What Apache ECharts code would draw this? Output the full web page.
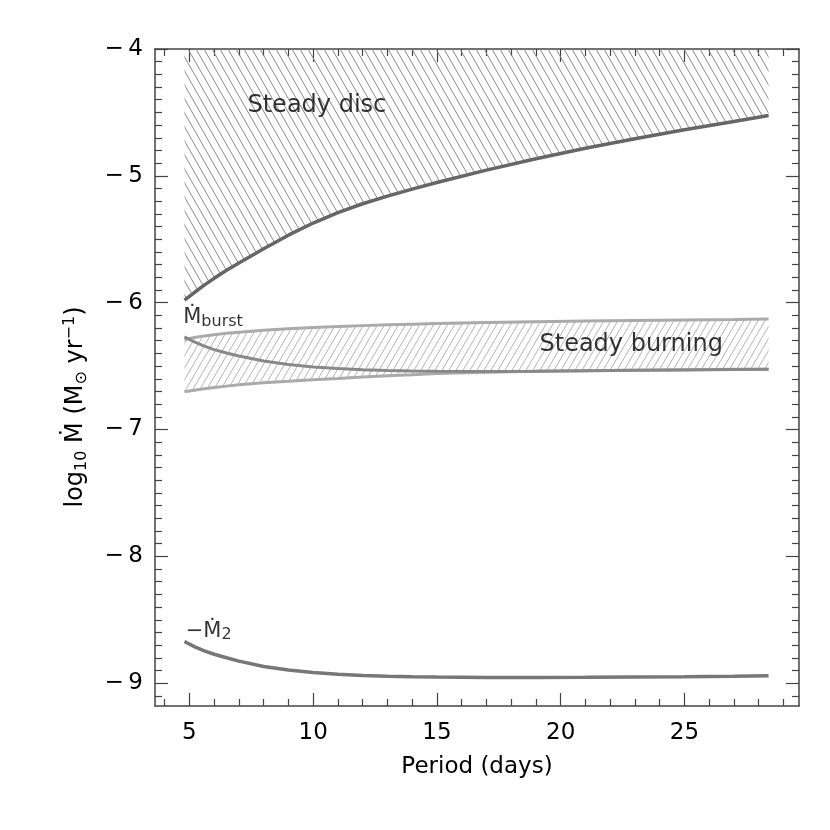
<!DOCTYPE html>
<html>
<head>
<meta charset="utf-8">
<script src="https://cdn.jsdelivr.net/npm/echarts@6/dist/echarts.min.js"></script>
<style>
html, body { margin: 0; padding: 0; background: #fff; }
#chart { width: 830px; height: 830px; }
</style>
</head>
<body>
<div id="chart"></div>
<script>
// orbital period (days) where the curves were read
var periods = [4.8, 5.2, 5.6, 6, 6.5, 7, 8, 9, 10, 11, 12, 13, 14, 15, 17, 19, 21, 23, 25, 27, 28.4];
// log10 Mdot values
var steadyDisc = [-5.98, -5.92, -5.862, -5.808, -5.745, -5.687, -5.575, -5.468, -5.372, -5.29, -5.22, -5.16, -5.105, -5.053, -4.955, -4.865, -4.783, -4.707, -4.636, -4.571, -4.525];
var burnUpper = [-6.29, -6.275, -6.263, -6.253, -6.242, -6.233, -6.218, -6.206, -6.196, -6.188, -6.181, -6.175, -6.17, -6.165, -6.157, -6.15, -6.145, -6.14, -6.136, -6.132, -6.129];
var burnLower = [-6.703, -6.69, -6.679, -6.669, -6.658, -6.648, -6.632, -6.619, -6.608, -6.598, -6.587, -6.577, -6.568, -6.558, -6.548, -6.541, -6.536, -6.532, -6.528, -6.525, -6.524];
var mBurst = [-6.27, -6.31, -6.343, -6.37, -6.397, -6.421, -6.46, -6.488, -6.507, -6.52, -6.529, -6.535, -6.539, -6.541, -6.542, -6.54, -6.536, -6.533, -6.53, -6.527, -6.525];
var mDot2 = [-8.671, -8.712, -8.745, -8.772, -8.80, -8.826, -8.868, -8.897, -8.915, -8.93, -8.939, -8.945, -8.949, -8.952, -8.955, -8.955, -8.954, -8.951, -8.949, -8.946, -8.942];
var discTop = -4;

var xMajor = [5, 10, 15, 20, 25];
var xMinor = [4, 6, 7, 8, 9, 11, 12, 13, 14, 16, 17, 18, 19, 21, 22, 23, 24, 26, 27, 28, 29];
var yMajor = [-9, -8, -7, -6, -5, -4];
var yMinor = [];
for (var t = -91; t <= -41; t++) {
  if (t % 10 != 0) yMinor.push(t / 10);
}

var FONT = 'DejaVu Sans';
var FRAME = '#444';

function pairs(vals) {
  return periods.map(function (p, i) { return [p, vals[i]]; });
}

// diagonal hatch tile, dir 1 = "\" , dir -1 = "/"
function hatch(color, dir, w, h) {
  var c = document.createElement('canvas');
  c.width = w; c.height = h;
  var ctx = c.getContext('2d');
  ctx.strokeStyle = color;
  ctx.lineWidth = 1;
  for (var k = -1; k <= 1; k++) {
    ctx.beginPath();
    if (dir > 0) { ctx.moveTo(k * w, 0); ctx.lineTo(k * w + w, h); }
    else { ctx.moveTo(k * w + w, 0); ctx.lineTo(k * w, h); }
    ctx.stroke();
  }
  return c;
}

// hatched region between two curves, drawn through the axes
function band(name, upper, lower, pattern) {
  return {
    name: name, type: 'custom', coordinateSystem: 'cartesian2d', silent: true,
    data: [[periods[0], lower[0]]],
    renderItem: function (params, api) {
      var pts = [];
      for (var i = 0; i < periods.length; i++) pts.push(api.coord([periods[i], upper[i]]));
      for (var j = periods.length - 1; j >= 0; j--) pts.push(api.coord([periods[j], lower[j]]));
      return {
        type: 'polygon', shape: { points: pts },
        style: { fill: { image: pattern, repeat: 'repeat' }, stroke: null }
      };
    }
  };
}

function xAx(pos, ticks, len, labels, line) {
  return {
    type: 'value', position: pos, min: 3.61, max: 29.63,
    axisLine: { show: line, onZero: false, lineStyle: { color: FRAME, width: 1.5 } },
    axisTick: { show: true, inside: true, length: len, customValues: ticks, lineStyle: { color: FRAME, width: 1.2 } },
    axisLabel: { show: labels, customValues: ticks, margin: 16, fontSize: 23, fontFamily: FONT, color: '#000' },
    splitLine: { show: false }
  };
}

function yAx(pos, ticks, len, labels, line) {
  return {
    type: 'value', position: pos, min: -9.18, max: -4,
    axisLine: { show: line, onZero: false, lineStyle: { color: FRAME, width: 1.5 } },
    axisTick: { show: true, inside: true, length: len, customValues: ticks, lineStyle: { color: FRAME, width: 1.2 } },
    axisLabel: {
      show: labels, customValues: ticks, margin: 12, fontSize: 23, fontFamily: FONT, color: '#000',
      formatter: function (v) { return '\u2212\u2009' + Math.abs(v); }
    },
    splitLine: { show: false }
  };
}

var xMain = xAx('bottom', xMajor, 13, true, true);
xMain.name = 'Period (days)';
xMain.nameLocation = 'middle';
xMain.nameGap = 50;
xMain.nameTextStyle = { fontSize: 23, fontFamily: FONT, color: '#000' };

var noteRich = {
  t: { fontSize: 24, fontFamily: FONT, color: '#000' },
  m: { fontSize: 21, fontFamily: FONT, color: '#000', lineHeight: 24 },
  sb: { fontSize: 16, fontFamily: FONT, color: '#000', lineHeight: 4, verticalAlign: 'bottom' }
};

var chart = echarts.init(document.getElementById('chart'));
chart.setOption({
  animation: false,
  backgroundColor: '#fff',
  grid: { left: 155, right: 31, top: 49, bottom: 124 },
  xAxis: [
    xMain,
    xAx('bottom', xMinor, 7, false, false),
    xAx('top', xMajor, 13, false, true),
    xAx('top', xMinor, 7, false, false)
  ],
  yAxis: [
    yAx('left', yMajor, 13, true, true),
    yAx('left', yMinor, 7, false, false),
    yAx('right', yMajor, 13, false, true),
    yAx('right', yMinor, 7, false, false)
  ],
  graphic: [{
    type: 'text', x: 76, y: 407, rotation: Math.PI / 2,
    style: {
      text: '{n|log}{s|10}{n| \u1E40 (M}{s|\u2299}{n| yr}{p|\u22121}{n|)}',
      align: 'center', verticalAlign: 'middle',
      rich: {
        n: { fontSize: 24, fontFamily: FONT, fill: '#000', lineHeight: 28 },
        s: { fontSize: 16, fontFamily: FONT, fill: '#000', lineHeight: 6, verticalAlign: 'bottom' },
        p: { fontSize: 16, fontFamily: FONT, fill: '#000', lineHeight: 8, verticalAlign: 'top' }
      }
    }
  }],
  series: [
    band('disc hatch', steadyDisc.map(function () { return discTop; }), steadyDisc, hatch('#8a8a8a', 1, 8, 14)),
    band('burn hatch', burnUpper, burnLower, hatch('#b4b4b4', -1, 7, 12)),
    {
      name: 'Steady disc', type: 'line', data: pairs(steadyDisc), symbol: 'none',
      lineStyle: { color: '#666', width: 3.5 }
    },
    {
      name: 'burn upper', type: 'line', data: pairs(burnUpper), symbol: 'none',
      lineStyle: { color: '#aaa', width: 3 }
    },
    {
      name: 'burn lower', type: 'line', data: pairs(burnLower), symbol: 'none',
      lineStyle: { color: '#aaa', width: 3 }
    },
    {
      name: 'Mburst', type: 'line', data: pairs(mBurst), symbol: 'none',
      lineStyle: { color: '#888', width: 3 }
    },
    {
      name: '-M2', type: 'line', data: pairs(mDot2), symbol: 'none',
      lineStyle: { color: '#777', width: 3.5 }
    },
    {
      name: 'notes', type: 'scatter', symbolSize: 0, silent: true,
      label: { show: true, color: '#000', rich: noteRich },
      data: [
        { value: [10.15, -4.45], label: { position: 'inside', formatter: '{t|Steady disc}' } },
        { value: [22.85, -6.334], label: { position: 'inside', formatter: '{t|Steady burning}' } },
        { value: [4.75, -6.12], label: { position: 'right', distance: 0, formatter: '{m|\u1E40}{sb|burst}' } },
        { value: [4.85, -8.59], label: { position: 'right', distance: 0, formatter: '{m|\u2212\u1E40}{sb|2}' } }
      ]
    }
  ]
});
</script>
</body>
</html>
